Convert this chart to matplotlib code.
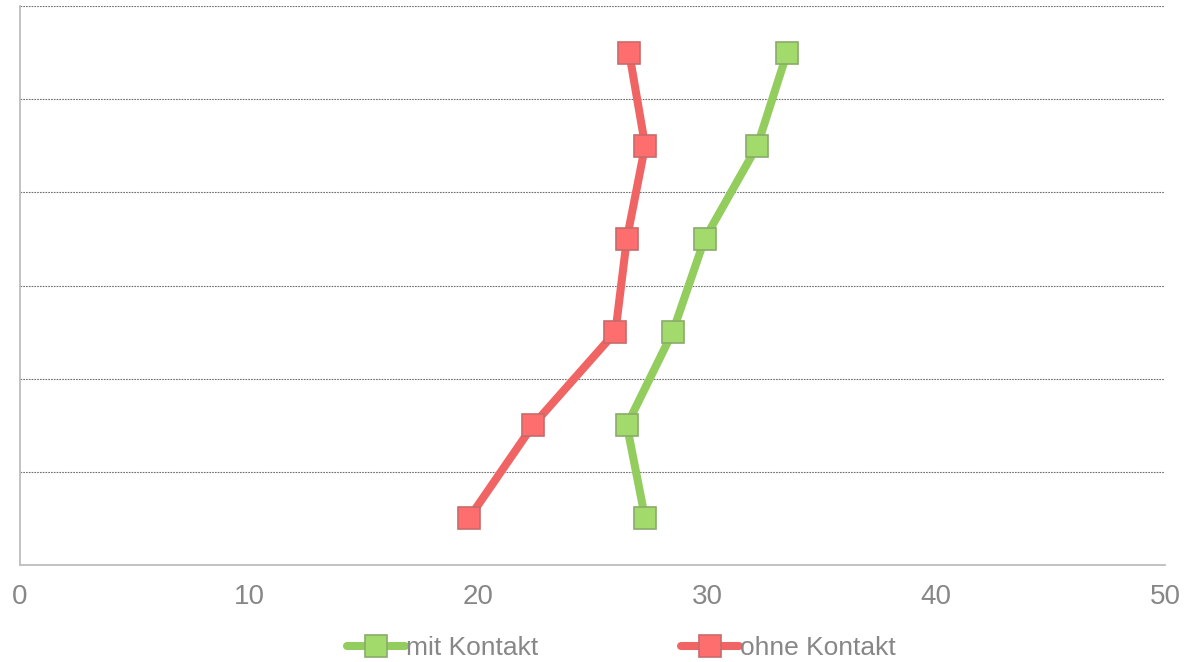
import numpy as np
import matplotlib
matplotlib.use("Agg")
import matplotlib.pyplot as plt

plt.rcParams["font.family"] = ["Liberation Sans", "DejaVu Sans"]

# rows from bottom to top
rows = [1, 2, 3, 4, 5, 6]
mit_kontakt = [27.3, 26.5, 28.5, 29.9, 32.2, 33.5]
ohne_kontakt = [19.6, 22.4, 26.0, 26.5, 27.3, 26.6]
x_ticks = [0, 10, 20, 30, 40, 50]

GREEN_LINE, GREEN_FILL = "#92cd5d", "#a2da6c"
RED_LINE, RED_FILL = "#f06464", "#ff6e6e"
TEXT = "#878787"

fig = plt.figure(figsize=(12.02, 6.62), dpi=100)
W, H = 1202, 662
ax = fig.add_axes([20 / W, 1 - 565 / H, (1165 - 20) / W, (565 - 6) / H])

style = dict(lw=5.8, marker="s", markersize=16, markeredgewidth=1.2,
             solid_capstyle="round", zorder=3)
ax.plot(mit_kontakt, rows, color=GREEN_LINE, markerfacecolor=GREEN_FILL,
        markeredgecolor="#8aab6a", label="mit Kontakt", **style)
ax.plot(ohne_kontakt, rows, color=RED_LINE, markerfacecolor=RED_FILL,
        markeredgecolor="#c86a6a", label="ohne Kontakt", **style)

ax.set_xlim(0, 50)
ax.set_ylim(0.5, 6.5)
ax.set_xticks(x_ticks)
ax.set_yticks([])
ax.set_yticks(np.arange(1.5, 7, 1), minor=True)
ax.yaxis.grid(True, which="minor", color="#6e6e6e", lw=0.8, ls=(0, (1.5, 1)))
ax.tick_params(axis="y", which="both", length=0)
ax.tick_params(axis="x", length=0, pad=14, labelsize=20, labelcolor=TEXT)
for s in ("top", "right"):
    ax.spines[s].set_visible(False)
for s in ("left", "bottom"):
    ax.spines[s].set_color("#bdbdbd")
    ax.spines[s].set_linewidth(1.3)

fig.legend(loc="center", bbox_to_anchor=(621.5 / W, 1 - 648 / H), ncol=2,
           frameon=False, fontsize=19, labelcolor=TEXT, handlelength=2.2,
           handletextpad=0.05, columnspacing=5.4, borderpad=0)

fig.savefig("out.png", dpi=100)
